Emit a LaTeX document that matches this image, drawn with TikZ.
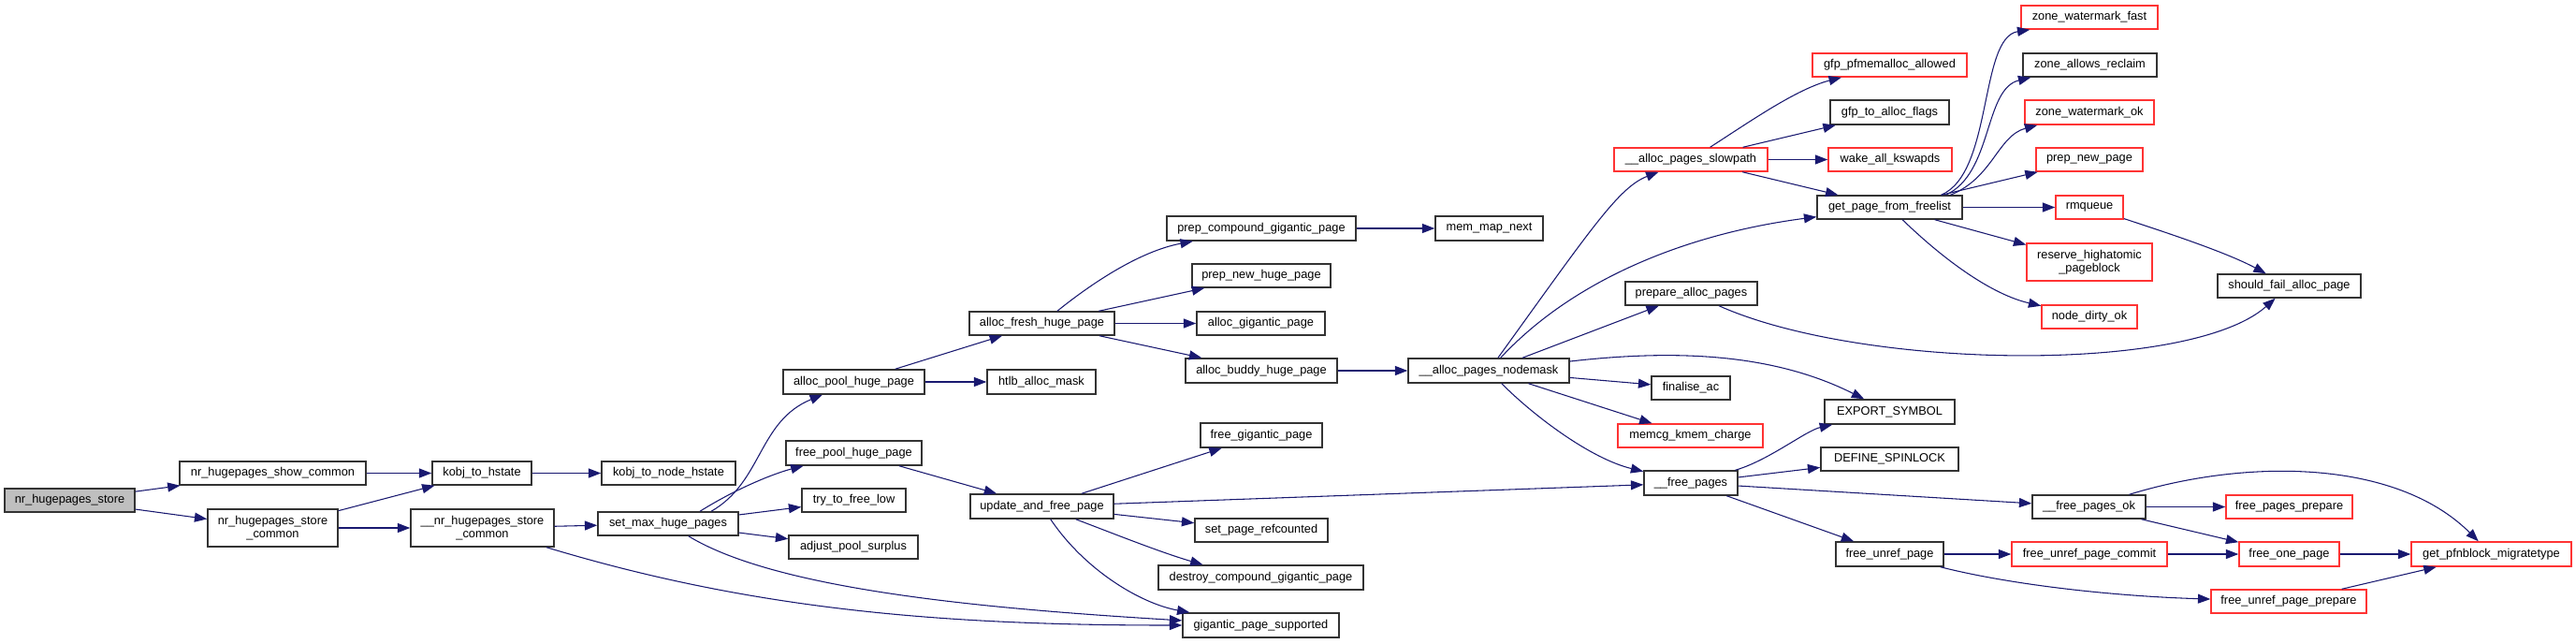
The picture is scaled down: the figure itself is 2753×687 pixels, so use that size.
\documentclass[tikz,border=0pt]{standalone}
\usepackage{fontspec}
\setmainfont{Liberation Sans}
\usetikzlibrary{arrows.meta,calc}
\definecolor{edgec}{HTML}{191970}
\definecolor{redline}{HTML}{FF3333}
\definecolor{blkline}{HTML}{333333}
\definecolor{rootfill}{HTML}{BFBFBF}
\tikzset{
  bbox/.style={draw=blkline, fill=white, line width=1.1pt, inner sep=0pt, align=center,
    font=\fontsize{9.6}{10.8}\selectfont},
  rbox/.style={bbox, draw=redline},
  gbox/.style={bbox, fill=rootfill},
  call/.style={draw=edgec, line width=0.8pt, -{Triangle[length=10pt,width=7.5pt]}},
}
\newcommand\bx[7][bbox]{\node[#1, minimum width={(#4-#3)*0.75pt}, minimum height={(#6-#5)*0.75pt}] (#2) at ({(#3+#4)/2},{(#5+#6)/2}) {#7};}
\begin{document}
\begin{tikzpicture}[x=0.75pt, y=-0.75pt]
\useasboundingbox (0,0) rectangle (2753,687);
% nodes
\bx[gbox]{root}{5}{144}{522}{547}{nr\_hugepages\_store}
\bx{nhsc}{192}{391}{493}{518}{nr\_hugepages\_show\_common}
\bx{nhstc}{222}{361}{544}{584}{nr\_hugepages\_store\\\_common}
\bx{k2h}{462}{568}{493}{518}{kobj\_to\_hstate}
\bx{unhsc}{439}{592}{544}{584}{\_\_nr\_hugepages\_store\\\_common}
\bx{k2nh}{643}{786}{493}{518}{kobj\_to\_node\_hstate}
\bx{smhp}{639}{789}{547}{572}{set\_max\_huge\_pages}
\bx{aphp}{837}{988}{395}{421}{alloc\_pool\_huge\_page}
\bx{fphp}{840}{985}{471}{497}{free\_pool\_huge\_page}
\bx{ttfl}{857}{968}{522}{547}{try\_to\_free\_low}
\bx{aps}{843}{981}{572}{597}{adjust\_pool\_surplus}
\bx{afhp}{1036}{1191}{333}{358}{alloc\_fresh\_huge\_page}
\bx{ham}{1055}{1171}{395}{421}{htlb\_alloc\_mask}
\bx{ufp}{1037}{1190}{528}{554}{update\_and\_free\_page}
\bx{pcgp}{1247}{1449}{231}{257}{prep\_compound\_gigantic\_page}
\bx{pnhp}{1274}{1422}{282}{307}{prep\_new\_huge\_page}
\bx{agp}{1279}{1416}{333}{358}{alloc\_gigantic\_page}
\bx{abhp}{1267}{1429}{383}{409}{alloc\_buddy\_huge\_page}
\bx{fgp}{1283}{1413}{452}{478}{free\_gigantic\_page}
\bx{sprc}{1277}{1419}{554}{579}{set\_page\_refcounted}
\bx{dcgp}{1238}{1457}{604}{630}{destroy\_compound\_gigantic\_page}
\bx{gps}{1264}{1431}{655}{681}{gigantic\_page\_supported}
\bx{mmn}{1534}{1649}{231}{257}{mem\_map\_next}
\bx{apn}{1505}{1677}{383}{409}{\_\_alloc\_pages\_nodemask}
\bx[rbox]{aps2}{1725}{1889}{158}{183}{\_\_alloc\_pages\_slowpath}
\bx{pap}{1737}{1878}{301}{326}{prepare\_alloc\_pages}
\bx{fac}{1765}{1849}{402}{427}{finalise\_ac}
\bx[rbox]{mkc}{1729}{1884}{453}{478}{memcg\_kmem\_charge}
\bx{fp}{1757}{1857}{503}{529}{\_\_free\_pages}
\bx[rbox]{gpa}{1937}{2102}{57}{82}{gfp\_pfmemalloc\_allowed}
\bx{gtaf}{1956}{2083}{107}{133}{gfp\_to\_alloc\_flags}
\bx[rbox]{wak}{1954}{2086}{158}{183}{wake\_all\_kswapds}
\bx{gpff}{1942}{2097}{209}{234}{get\_page\_from\_freelist}
\bx{es}{1950}{2089}{427}{453}{EXPORT\_SYMBOL}
\bx{ds}{1946}{2093}{478}{503}{DEFINE\_SPINLOCK}
\bx{fu}{1962}{2077}{579}{605}{free\_unref\_page}
\bx[rbox]{zwf}{2160}{2306}{6}{31}{zone\_watermark\_fast}
\bx{zar}{2162}{2305}{57}{82}{zone\_allows\_reclaim}
\bx[rbox]{zwo}{2164}{2302}{107}{133}{zone\_watermark\_ok}
\bx[rbox]{pnp}{2176}{2290}{158}{183}{prep\_new\_page}
\bx[rbox]{rmq}{2197}{2269}{209}{234}{rmqueue}
\bx[rbox]{rhp}{2166}{2300}{260}{300}{reserve\_highatomic\\\_pageblock}
\bx[rbox]{ndo}{2182}{2284}{326}{351}{node\_dirty\_ok}
\bx{sfap}{2370}{2523}{293}{318}{should\_fail\_alloc\_page}
\bx{fpo}{2172}{2293}{529}{554}{\_\_free\_pages\_ok}
\bx[rbox]{fpp}{2379}{2514}{529}{554}{free\_pages\_prepare}
\bx[rbox]{fupc}{2150}{2316}{579}{605}{free\_unref\_page\_commit}
\bx[rbox]{fop}{2393}{2500}{579}{605}{free\_one\_page}
\bx[rbox]{gpm}{2577}{2748}{579}{605}{get\_pfnblock\_migratetype}
\bx[rbox]{fupp}{2363}{2529}{630}{655}{free\_unref\_page\_prepare}
% edges
\draw[call] (root) -- (nhsc);
\draw[call] (root) -- (nhstc);
\draw[call] (nhsc) -- (k2h);
\draw[call] (nhstc) -- (k2h);
\draw[call] (nhstc) -- (unhsc);
\draw[call] (k2h) -- (k2nh);
\draw[call] (unhsc) -- (smhp);
\draw[call] (unhsc) .. controls (800,650) and (1000,668) .. (gps);
\draw[call] ($(smhp.north)+(46,0)$) .. controls (815,515) and (810,450) .. (aphp);
\draw[call] ($(smhp.north)+(34,0)$) .. controls (790,520) and (830,505) .. (fphp);
\draw[call] (smhp) -- (ttfl);
\draw[call] (smhp) -- (aps);
\draw[call] (smhp) .. controls (830,630) and (1050,650) .. (gps);
\draw[call] (aphp) -- (afhp);
\draw[call] (aphp) -- (ham);
\draw[call] (afhp) .. controls (1170,300) and (1220,268) .. (pcgp);
\draw[call] (afhp) -- (pnhp);
\draw[call] (afhp) -- (agp);
\draw[call] (afhp) -- (abhp);
\draw[call] (pcgp) -- (mmn);
\draw[call] (abhp) -- (apn);
\draw[call] (fphp) -- (ufp);
\draw[call] (ufp) -- (fgp);
\draw[call] (ufp) -- (fp);
\draw[call] (ufp) -- (sprc);
\draw[call] (ufp) .. controls (1190,570) and (1240,590) .. ($(dcgp.north)+(-62,0)$);
\draw[call] (ufp) .. controls (1160,610) and (1220,645) .. (gps);
\draw[call] (apn) .. controls (1700,245) and (1730,200) .. (aps2);
\draw[call] (apn) .. controls (1680,300) and (1800,250) .. (gpff);
\draw[call] (apn) -- (pap);
\draw[call] (apn) .. controls (1800,372) and (1900,380) .. (es);
\draw[call] (apn) -- (fac);
\draw[call] (apn) -- (mkc);
\draw[call] (apn) .. controls (1640,445) and (1700,490) .. (fp);
\draw[call] (aps2) .. controls (1870,130) and (1920,95) .. (gpa);
\draw[call] (aps2) -- (gtaf);
\draw[call] (aps2) -- (wak);
\draw[call] (aps2) -- (gpff);
\draw[call] (pap) .. controls (1990,395) and (2340,400) .. (sfap);
\draw[call] ($(gpff.north)+(55,0)$) .. controls (2130,185) and (2115,40) .. ($(zwf.south west)+(10,0)$);
\draw[call] ($(gpff.north)+(60,0)$) .. controls (2130,185) and (2120,95) .. ($(zar.south west)+(9,0)$);
\draw[call] ($(gpff.north)+(65,0)$) .. controls (2130,190) and (2135,145) .. ($(zwo.south west)+(14,0)$);
\draw[call] (gpff) -- (pnp);
\draw[call] (gpff) -- (rmq);
\draw[call] (gpff) -- (rhp);
\draw[call] (gpff) .. controls (2080,280) and (2130,315) .. (ndo);
\draw[call] (rmq) .. controls (2320,250) and (2380,270) .. (sfap);
\draw[call] (fp) .. controls (1890,492) and (1930,460) .. (es);
\draw[call] (fp) -- (ds);
\draw[call] (fp) -- (fpo);
\draw[call] (fp) -- (fu);
\draw[call] (fpo) -- (fpp);
\draw[call] (fpo) -- (fop);
\draw[call] (fpo) .. controls (2400,490) and (2560,490) .. (gpm);
\draw[call] (fu) -- (fupc);
\draw[call] (fu) .. controls (2150,625) and (2260,637) .. (fupp);
\draw[call] (fupc) -- (fop);
\draw[call] (fop) -- (gpm);
\draw[call] (fupp) -- (gpm);
\end{tikzpicture}
\end{document}
